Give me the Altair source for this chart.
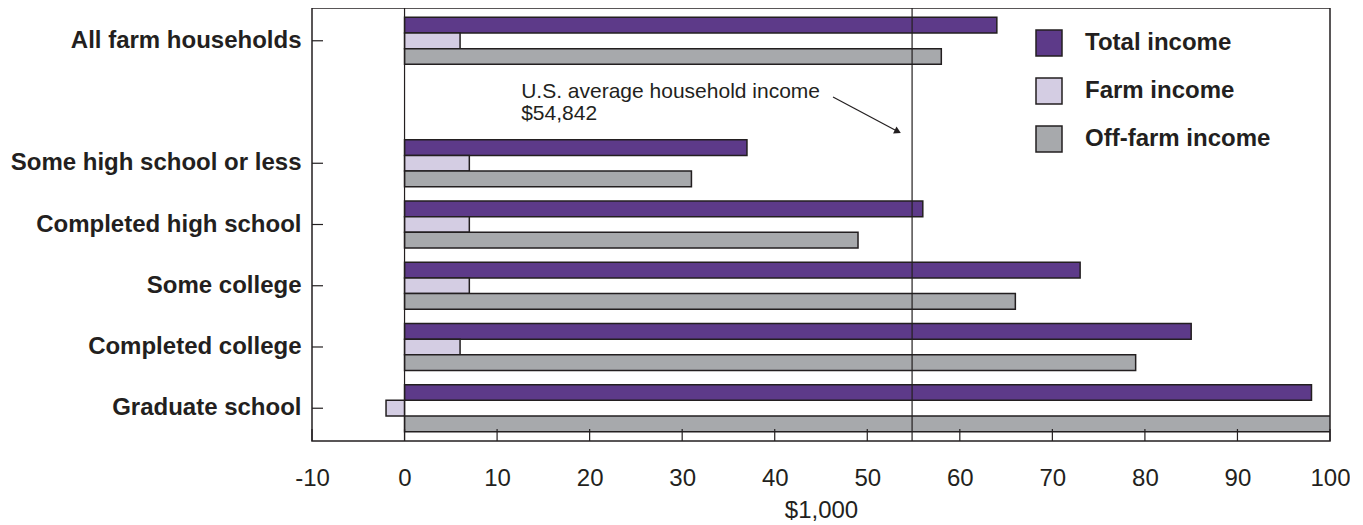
import altair as alt
import pandas as pd

# ---- data ----
categories = [
    "All farm households",
    "Some high school or less",
    "Completed high school",
    "Some college",
    "Completed college",
    "Graduate school",
]
series = ["Total income", "Farm income", "Off-farm income"]
total_income = [64, 37, 56, 73, 85, 98]
farm_income = [6, 7, 7, 7, 6, -2]
off_farm_income = [58, 31, 49, 66, 79, 100]
tick_values = [-10, 0, 10, 20, 30, 40, 50, 60, 70, 80, 90, 100]
us_average = 54.842
annotation_lines = ["U.S. average household income", "$54,842"]
x_title = "$1,000"

colors = ["#5D3A89", "#D4CDE3", "#A7A9AC"]
ink = "#231F20"
FONT = "Liberation Sans"

spacer = " "
y_domain = [categories[0], spacer] + categories[1:]

rows = []
for i, c in enumerate(categories):
    for s, vals in zip(series, [total_income, farm_income, off_farm_income]):
        rows.append({"category": c, "series": s, "value": vals[i]})
df = pd.DataFrame(rows)

W, H = 1018, 433
x_scale = alt.Scale(domain=[-10, 100], nice=False, zero=False)
y_scale = alt.Scale(domain=y_domain, paddingInner=0.23, paddingOuter=0.15)

bars = alt.Chart(df).mark_bar(stroke=ink, strokeWidth=1.5, clip=True).encode(
    x=alt.X(
        "value:Q",
        scale=x_scale,
        title=x_title,
        axis=alt.Axis(
            values=tick_values,
            labelExpr="'' + datum.value",
            labelFlush=False,
            labelOverlap=False,
            domain=False,
            ticks=False,
            grid=False,
            labelFontSize=24,
            labelFont=FONT,
            labelColor=ink,
            labelPadding=25,
            titleFontSize=24,
            titleFont=FONT,
            titleFontWeight="normal",
            titleColor=ink,
            titlePadding=8,
        ),
    ),
    y=alt.Y(
        "category:N",
        scale=y_scale,
        sort=y_domain,
        title=None,
        axis=alt.Axis(
            domain=False,
            ticks=False,
            grid=False,
            labelFontSize=24,
            labelFont=FONT,
            labelFontWeight="bold",
            labelColor=ink,
            labelPadding=11,
            labelLimit=500,
        ),
    ),
    yOffset=alt.YOffset("series:N", sort=series, scale=alt.Scale(paddingInner=0, paddingOuter=0)),
    color=alt.Color(
        "series:N",
        sort=series,
        scale=alt.Scale(domain=series, range=colors),
        legend=alt.Legend(
            title=None,
            orient="none",
            legendX=723,
            legendY=21,
            symbolType="square",
            symbolSize=676,
            symbolStrokeColor=ink,
            symbolStrokeWidth=1.5,
            labelFontSize=24,
            labelFont=FONT,
            labelFontWeight="bold",
            labelColor=ink,
            labelOffset=22,
            labelLimit=500,
            rowPadding=16,
            padding=0,
        ),
    ),
)

ref_df = pd.DataFrame({"v": [0, us_average]})
ref_lines = alt.Chart(ref_df).mark_rule(color=ink, strokeWidth=1.2).encode(
    x=alt.X("v:Q", scale=x_scale)
)

tick_df = pd.DataFrame({"v": tick_values})
x_ticks = alt.Chart(tick_df).mark_rule(color=ink, strokeWidth=1.2).encode(
    x=alt.X("v:Q", scale=x_scale), y=alt.value(H - 12), y2=alt.value(H)
)

ytick_df = pd.DataFrame({"category": categories})
y_ticks = alt.Chart(ytick_df).mark_rule(color=ink, strokeWidth=1.2).encode(
    y=alt.Y("category:N", scale=y_scale, bandPosition=0.5),
    x=alt.value(0),
    x2=alt.value(11),
)

ann1 = alt.Chart().mark_text(
    align="left", baseline="middle", fontSize=21, font=FONT, color=ink
).encode(x=alt.datum(12.6), y=alt.value(84), text=alt.value(annotation_lines[0]))
ann2 = alt.Chart().mark_text(
    align="left", baseline="middle", fontSize=21, font=FONT, color=ink
).encode(x=alt.datum(12.6), y=alt.value(106), text=alt.value(annotation_lines[1]))

arrow = alt.Chart().mark_rule(color=ink, strokeWidth=1.2).encode(
    x=alt.datum(46.3), x2=alt.datum(53.2), y=alt.value(89), y2=alt.value(123)
)
arrow_head = alt.Chart().mark_point(
    shape="triangle-right", filled=True, size=60, angle=26, color=ink, opacity=1
).encode(x=alt.datum(53.3), y=alt.value(123.5))

chart = alt.layer(bars, ref_lines, x_ticks, y_ticks, ann1, ann2, arrow, arrow_head).properties(
    width=W,
    height=H,
    autosize=alt.AutoSizeParams(type="none"),
    padding={"left": 304, "top": 0, "right": 20, "bottom": 84},
    background="white",
).configure_view(stroke=ink, strokeWidth=1.5)

chart.save("out.html", embed_options={"renderer": "svg", "actions": False})
